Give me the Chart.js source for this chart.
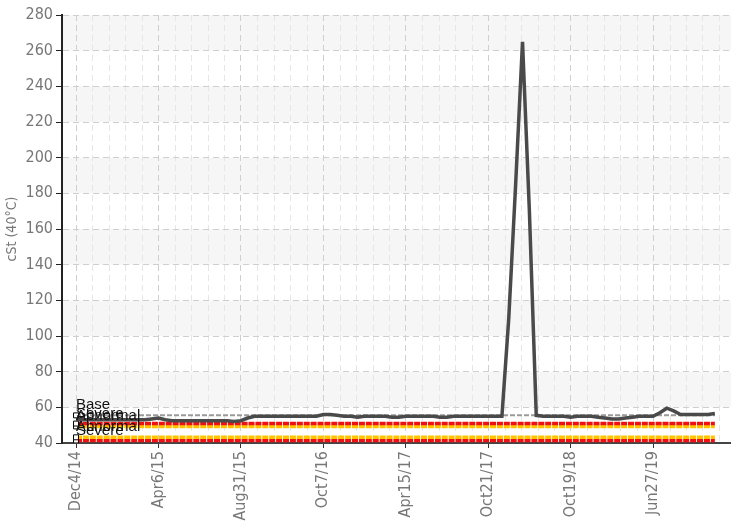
<!DOCTYPE html>
<html>
<head>
<meta charset="utf-8">
<script src="https://cdn.jsdelivr.net/npm/chart.js@4/dist/chart.umd.min.js"></script>
<style>
  html, body { margin: 0; padding: 0; background: #fff; }
  #wrap { width: 731px; height: 521px; }
</style>
</head>
<body>
<div id="wrap"><canvas id="chart" width="731" height="521"></canvas></div>
<script>
// tick labels shown every 12 samples
const tickLabels = ['Dec4/14', 'Apr6/15', 'Aug31/15', 'Oct7/16', 'Apr15/17', 'Oct21/17', 'Oct19/18', 'Jun27/19'];
const tickEvery = 12;

// viscosity samples, cSt at 40C
const viscosity = [
  53, 53, 53, 53, 53, 53, 53, 53, 53, 53, 53, 53.5,
  54, 53, 52.5, 52.5, 52.5, 52.5, 52.5, 52.5, 52.5, 52.5, 52.5, 52,
  52.5, 54, 55, 55, 55, 55, 55, 55, 55, 55, 55, 55,
  56, 56, 55.5, 55, 55, 54.5, 55, 55, 55, 55, 54.5, 54.5,
  55, 55, 55, 55, 55, 54.5, 54.5, 55, 55, 55, 55, 55,
  55, 55, 55, 110, 185, 265, 170, 55.5, 55, 55, 55, 55,
  54.5, 55, 55, 55, 54.5, 54, 53.5, 53.5, 54, 54.5, 55, 55,
  55, 57, 59.5, 58, 56, 56, 56, 56, 56, 56.5
];

// limit lines
const limitNames = ['Base', 'Severe', 'Abnormal', 'Abnormal', 'Severe'];
const limitValues = [55.5, 50.9, 49.3, 43.2, 41.4];
const limitColors = ['#9a9a9a', '#ee1111', '#ffc400', '#ffc400', '#ee1111'];

const yMin = 40, yMax = 280, yStep = 20;

const lastIdx = viscosity.length - 1;
const narrow = "'Liberation Sans Narrow', 'DejaVu Sans Condensed', 'Roboto', sans-serif";

const mainData = viscosity.map((v, i) => ({ x: i, y: v }));

const limitSets = limitValues.map((v, k) => ({
  label: limitNames[k],
  tag: true,
  data: [{ x: 0, y: v }, { x: lastIdx, y: v }],
  borderColor: limitColors[k],
  borderWidth: k === 0 ? 2 : 3.5,
  borderDash: k === 0 ? [5, 2] : [6, 0.9],
  pointStyle: 'rect',
  pointRadius: [3.5, 0],
  pointBackgroundColor: '#fff',
  pointBorderColor: '#000',
  pointBorderWidth: 1,
  order: 2
}));

const bgPlugin = {
  id: 'bands',
  beforeDraw(chart) {
    const { ctx, chartArea: a, scales: { x, y } } = chart;
    ctx.save();
    ctx.fillStyle = '#f6f6f6';
    for (let v = yMin; v < yMax; v += yStep) {
      if (((v - yMin) / yStep) % 2 === 1) {
        const t = y.getPixelForValue(v + yStep), b = y.getPixelForValue(v);
        ctx.fillRect(a.left, t, a.right - a.left, b - t);
      }
    }
    // faint minor verticals
    ctx.strokeStyle = '#e6e6e6';
    ctx.lineWidth = 1;
    ctx.setLineDash([6, 4]);
    const minor = tickEvery / 5;
    for (let i = 0; i <= x.max; i += minor) {
      if (Math.abs(i / tickEvery - Math.round(i / tickEvery)) < 0.01) continue;
      const px = Math.round(x.getPixelForValue(i)) + 0.5;
      ctx.beginPath();
      ctx.moveTo(px, a.top);
      ctx.lineTo(px, a.bottom);
      ctx.stroke();
    }
    ctx.restore();
  },
  afterDatasetsDraw(chart) {
    const { ctx } = chart;
    ctx.save();
    ctx.fillStyle = '#111';
    ctx.font = "15px 'Liberation Sans', Arial, sans-serif";
    ctx.textBaseline = 'alphabetic';
    chart.data.datasets.forEach((ds, k) => {
      if (!ds.tag) return;
      const p = chart.getDatasetMeta(k).data[0];
      ctx.fillText(ds.label, p.x, p.y - 6);
    });
    ctx.restore();
  }
};

new Chart(document.getElementById('chart'), {
  type: 'line',
  data: {
    datasets: [
      {
        label: 'cSt (40°C)',
        data: mainData,
        borderColor: '#4a4a4a',
        borderWidth: 3.5,
        pointRadius: 0,
        tension: 0,
        order: 1
      },
      ...limitSets
    ]
  },
  options: {
    responsive: false,
    devicePixelRatio: 1,
    animation: false,
    layout: { autoPadding: false, padding: { top: 15, right: 0, left: 0, bottom: 0 } },
    plugins: { legend: { display: false }, tooltip: { enabled: false } },
    scales: {
      x: {
        type: 'linear',
        min: -2.04,
        max: 95.35,
        afterFit(s) { s.height = 78; s.paddingRight = 0; s.paddingLeft = 0; },
        afterBuildTicks(s) {
          s.ticks = tickLabels.map((t, k) => ({ value: k * tickEvery }));
        },
        ticks: {
          stepSize: tickEvery,
          minRotation: 90,
          maxRotation: 90,
          color: '#777',
          font: { family: narrow, size: 16 },
          padding: 3,
          callback(v) { return tickLabels[Math.round(v / tickEvery)]; }
        },
        grid: { color: '#cfcfcf', tickColor: '#333', tickLength: 5, tickBorderDash: [] },
        border: { display: true, color: '#444', width: 2, dash: [6, 4] }
      },
      y: {
        min: yMin,
        max: yMax,
        afterFit(s) { s.width = 62; },
        ticks: { stepSize: yStep, color: '#777', font: { family: narrow, size: 16 }, padding: 3 },
        title: { display: true, text: 'cSt (40°C)', color: '#777', font: { family: narrow, size: 14 }, padding: { top: 4, bottom: 0 } },
        grid: { color: '#cfcfcf', tickColor: '#222', tickLength: 6, tickBorderDash: [] },
        border: { display: true, color: '#222', width: 2, dash: [6, 4] }
      }
    }
  },
  plugins: [bgPlugin]
});
</script>
</body>
</html>
